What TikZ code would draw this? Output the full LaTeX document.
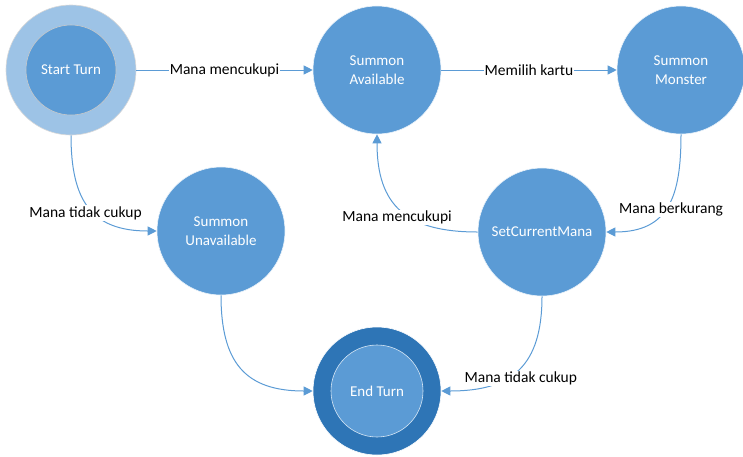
\documentclass[tikz,border=0pt]{standalone}
\usepackage{fontspec}
\setmainfont{Carlito}
\usetikzlibrary{arrows.meta}
\definecolor{stateblue}{HTML}{5B9BD5}
\definecolor{lightring}{HTML}{9DC3E6}
\definecolor{darkring}{HTML}{2E75B6}
\definecolor{rimgrey}{HTML}{C9C9C9}

\begin{document}
\begin{tikzpicture}[x=1pt,y=-1pt,
	state/.style={circle,fill=stateblue,draw=white!88!stateblue,line width=0.6pt,minimum size=128pt,inner sep=0pt,text=white,align=center,font=\fontsize{15}{19.5}\selectfont},
	ring/.style={circle,minimum size=130pt,inner sep=0pt,draw=white!85!black,line width=0.6pt},
	trans/.style={draw=stateblue,line width=1pt,looseness=1.3,-{Triangle[length=9pt,width=9pt]}},
	lbl/.style={fill=white,inner sep=1pt,text=black,font=\fontsize{15.5}{18}\selectfont}]
	\useasboundingbox (0,0) rectangle (743,456);
	\node[ring,fill=lightring] (ST) at (71,70) {};
	\node[state,minimum size=90pt,draw=rimgrey] (STin) at (71,70) {Start Turn};
	\node[state] (SA) at (377,70) {Summon\\Available};
	\node[state] (SM) at (681,70) {Summon\\Monster};
	\node[state] (SU) at (221,231) {Summon\\Unavailable};
	\node[state] (SCM) at (542,232) {SetCurrentMana};
	\node[ring,minimum size=128pt,fill=darkring,draw=white] (ET) at (377,391) {};
	\node[state,minimum size=92pt,draw=white!75!stateblue] (ETin) at (377,391) {End Turn};
	\draw[trans] (ST) -- node[lbl] {Mana mencukupi} (SA);
	\draw[trans] (SA) -- node[lbl] {Memilih kartu} (SM);
	\draw[trans] (ST.south) to[out=-90,in=180] node[lbl,pos=0.55,xshift=-8pt,yshift=-1pt] {Mana tidak cukup} (SU.west);
	\draw[trans] (SM.south) to[out=-90,in=0] node[lbl,pos=0.5,xshift=4pt,yshift=-3pt] {Mana berkurang} (SCM.east);
	\draw[trans] (SCM.west) to[out=180,in=-90] node[lbl,pos=0.42,xshift=-12pt,yshift=-1pt] {Mana mencukupi} (SA.south);
	\draw[trans] (SU.south) to[out=-90,in=180] (ET.west);
	\draw[trans] (SCM.south) to[out=-90,in=0] node[lbl,pos=0.55,xshift=8pt,yshift=-4pt] {Mana tidak cukup} (ET.east);
\end{tikzpicture}
\end{document}
